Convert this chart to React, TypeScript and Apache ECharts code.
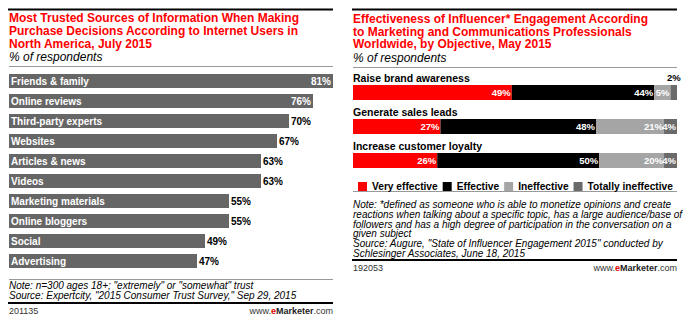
import React, { useEffect, useRef } from "react";
import * as echarts from "echarts";

// Left chart data
const sources = [
  "Friends & family",
  "Online reviews",
  "Third-party experts",
  "Websites",
  "Articles & news",
  "Videos",
  "Marketing materials",
  "Online bloggers",
  "Social",
  "Advertising",
];
const trustValues = [81, 76, 70, 67, 63, 63, 55, 55, 49, 47];

// Right chart data
const objectives = ["Raise brand awareness", "Generate sales leads", "Increase customer loyalty"];
const effLevels = ["Very effective", "Effective", "Ineffective", "Totally ineffective"];
const veryEffective = [49, 27, 26];
const effective = [44, 48, 50];
const ineffective = [5, 21, 20];
const totallyIneffective = [2, 4, 4];
const effColors = ["#ff0000", "#000000", "#a5a5a5", "#6a6a6a"];

const leftTitle = "Most Trusted Sources of Information When Making\nPurchase Decisions According to Internet Users in\nNorth America, July 2015";
const rightTitle = "Effectiveness of Influencer* Engagement According\nto Marketing and Communications Professionals\nWorldwide, by Objective, May 2015";
const subtitle = "% of respondents";
const leftNote = 'Note: n=300 ages 18+; "extremely" or "somewhat" trust\nSource: Expertcity, "2015 Consumer Trust Survey," Sep 29, 2015';
const rightNote =
  'Note: *defined as someone who is able to monetize opinions and create\nreactions when talking about a specific topic, has a large audience/base of\nfollowers and has a high degree of participation in the conversation on a\ngiven subject\nSource: Augure, "State of Influencer Engagement 2015" conducted by\nSchlesinger Associates, June 18, 2015';
const leftId = "201135";
const rightId = "192053";

const SANS = "Liberation Sans";

export default function App() {
  const ref = useRef<HTMLDivElement>(null);
  useEffect(() => {
    if (!ref.current) return;
    const chart = echarts.init(ref.current, null, { renderer: "svg" });

    const brand = (x: number, y: number) => ({
      type: "text",
      x,
      y,
      style: {
        text: "{a|www.}{e|e}{m|Marketer}{a|.com}",
        align: "right",
        verticalAlign: "middle",
        rich: {
          a: { fontFamily: SANS, fontSize: 9, fill: "#333" },
          e: { fontFamily: SANS, fontSize: 9, fontWeight: "bold", fill: "#e00000" },
          m: { fontFamily: SANS, fontSize: 9, fontWeight: "bold", fill: "#222" },
        },
      },
    });

    const hline = (x1: number, x2: number, y: number, color: string, w: number) => ({
      type: "line",
      shape: { x1, y1: y, x2, y2: y },
      style: { stroke: color, lineWidth: w },
    });

    const txt = (x: number, y: number, text: string, font: string, fill: string, lineHeight?: number) => ({
      type: "text",
      x,
      y,
      style: { text, font, fill, lineHeight, verticalAlign: "top", align: "left" },
    });

    const seriesEff = [veryEffective, effective, ineffective, totallyIneffective].map((arr, i) => ({
      name: effLevels[i],
      type: "bar",
      stack: "eff",
      xAxisIndex: 1,
      yAxisIndex: 1,
      barWidth: 15,
      itemStyle: { color: effColors[i] },
      data: arr.map((v) =>
        v < 3
          ? {
              value: v,
              label: {
                position: "top",
                color: "#000",
                distance: 3,
                formatter: "{c}%",
              },
            }
          : v
      ),
      label: {
        show: true,
        position: "insideRight",
        distance: 1,
        color: "#fff",
        fontFamily: SANS,
        fontWeight: "bold",
        fontSize: 9.5,
        formatter: "{c}%",
      },
    }));

    chart.setOption({
      animation: false,
      backgroundColor: "#fff",
      grid: [
        { left: 9, top: 71, width: 324, height: 200 },
        { left: 353, top: 75.5, width: 324, height: 102 },
      ],
      xAxis: [
        { type: "value", gridIndex: 0, min: 0, max: 81, show: false },
        { type: "value", gridIndex: 1, min: 0, max: 100, show: false },
      ],
      yAxis: [
        {
          type: "category",
          gridIndex: 0,
          data: sources,
          inverse: true,
          show: false,
        },
        {
          type: "category",
          gridIndex: 1,
          data: objectives,
          inverse: true,
          z: 10,
          axisLine: { show: false },
          axisTick: { show: false },
          axisLabel: {
            inside: true,
            margin: 0,
            align: "left",
            verticalAlign: "bottom",
            padding: [0, 0, 9, 0],
            color: "#000",
            fontFamily: SANS,
            fontWeight: "bold",
            fontSize: 10.5,
          },
        },
      ],
      legend: {
        left: 353,
        top: 176.5,
        width: 340,
        itemWidth: 9,
        itemHeight: 9,
        itemGap: 5,
        icon: "rect",
        data: effLevels,
        textStyle: { fontFamily: SANS, fontWeight: "bold", fontSize: 10.2, color: "#000" },
      },
      series: [
        {
          type: "bar",
          xAxisIndex: 0,
          yAxisIndex: 0,
          barWidth: 14,
          data: trustValues,
          itemStyle: { color: "#666666" },
          label: {
            show: true,
            position: "insideLeft",
            distance: 2,
            formatter: "{b}",
            color: "#fff",
            fontFamily: SANS,
            fontWeight: "bold",
            fontSize: 10,
          },
        },
        {
          type: "bar",
          xAxisIndex: 0,
          yAxisIndex: 0,
          barWidth: 14,
          barGap: "-100%",
          itemStyle: { color: "transparent" },
          data: trustValues.map((v) => ({
            value: v,
            label: v >= 75 ? { position: "insideRight", color: "#fff" } : { position: "right", color: "#000" },
          })),
          label: {
            show: true,
            distance: 2,
            formatter: "{c}%",
            fontFamily: SANS,
            fontWeight: "bold",
            fontSize: 10,
          },
        },
        ...seriesEff,
      ],
      graphic: [
        hline(8, 333, 9.5, "#000", 2),
        txt(9, 11, leftTitle, `bold 12px "${SANS}"`, "#ff0000", 13),
        txt(9, 51, subtitle, `italic 12px "${SANS}"`, "#000"),
        hline(9, 333, 66.5, "#999", 1),
        hline(9, 333, 279.5, "#999", 1),
        txt(9, 280, leftNote, `italic 10px "${SANS}"`, "#000", 10),
        hline(8, 333, 303, "#000", 2),
        txt(9, 306, leftId, `9px "${SANS}"`, "#333"),
        brand(333, 311),

        hline(352, 677, 9.5, "#000", 2),
        txt(353, 13, rightTitle, `bold 12px "${SANS}"`, "#ff0000", 12.5),
        txt(353, 52, subtitle, `italic 12px "${SANS}"`, "#000"),
        hline(353, 677, 67.5, "#999", 1),
        hline(353, 677, 191.5, "#999", 1),
        txt(353, 199.5, rightNote, `italic 10px "${SANS}"`, "#000", 9.8),
        hline(352, 677, 260, "#000", 2),
        txt(353, 263, rightId, `9px "${SANS}"`, "#333"),
        brand(677, 268),
      ],
    });
    return () => chart.dispose();
  }, []);
  return (
    <div
      ref={ref}
      style={{ position: "fixed", left: 0, top: 0, width: 686, height: 326, background: "#fff" }}
    />
  );
}
